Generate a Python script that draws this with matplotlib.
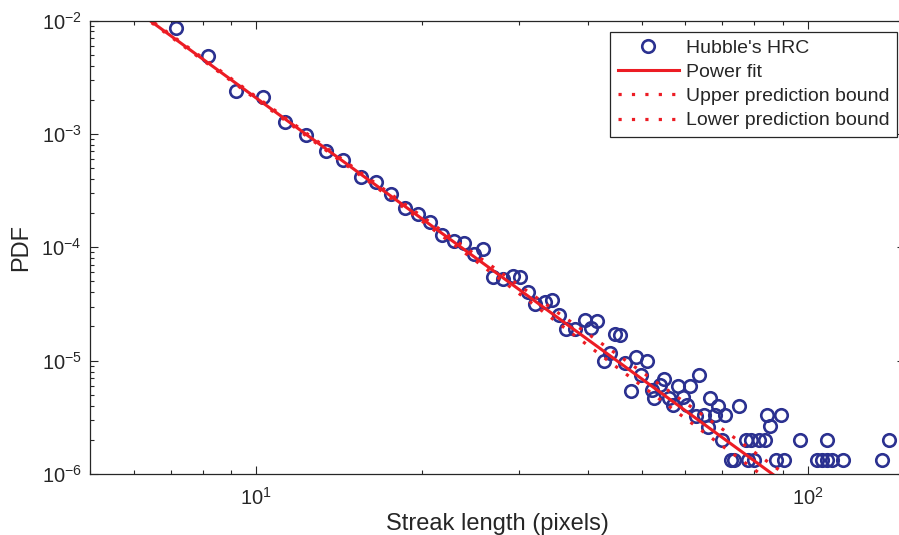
import numpy as np
import matplotlib
matplotlib.use("Agg")
import matplotlib.pyplot as plt

plt.rcParams['font.family'] = ['Liberation Sans', 'DejaVu Sans']
plt.rcParams['mathtext.fontset'] = 'custom'
plt.rcParams['mathtext.rm'] = 'Liberation Sans'
plt.rcParams['mathtext.it'] = 'Liberation Sans:italic'
plt.rcParams['mathtext.bf'] = 'Liberation Sans:bold'

# streak length (pixels) / PDF
streak_len = [7.15, 8.18, 9.21, 10.28, 11.28, 12.32, 13.38, 14.40, 15.47, 16.52,
              17.53, 18.60, 19.66, 20.70, 21.73, 22.80, 23.84, 24.85, 25.83, 26.92,
              28.03, 29.16, 30.08, 31.14, 32.02, 33.38, 34.33, 35.38, 36.43, 37.81,
              39.42, 40.53, 41.55, 42.75, 43.73, 44.66, 45.73, 46.66, 47.73, 48.80,
              49.89, 51.02, 52.19, 52.73, 53.99, 54.95, 56.12, 57.05, 58.09, 59.31,
              60.30, 61.16, 62.70, 63.39, 64.91, 65.80, 66.55, 67.95, 68.60, 69.75,
              70.84, 72.53, 73.52, 75.07, 77.29, 77.93, 78.90, 79.89, 81.58, 83.64,
              84.44, 85.30, 87.45, 89.40, 90.70, 96.74, 103.9, 106.1, 108.2, 108.3,
              110.4, 115.7, 136.2, 140.6]
pdf = [8.53e-3, 4.86e-3, 2.39e-3, 2.10e-3, 1.265e-3, 9.72e-4, 7.0e-4, 5.89e-4, 4.20e-4, 3.74e-4,
       2.93e-4, 2.21e-4, 1.95e-4, 1.68e-4, 1.28e-4, 1.14e-4, 1.10e-4, 8.73e-5, 9.60e-5, 5.47e-5,
       5.25e-5, 5.53e-5, 5.5e-5, 4.06e-5, 3.16e-5, 3.31e-5, 3.43e-5, 2.53e-5, 1.89e-5, 1.89e-5,
       2.29e-5, 1.93e-5, 2.25e-5, 9.94e-6, 1.16e-5, 1.72e-5, 1.68e-5, 9.48e-6, 5.35e-6, 1.08e-5,
       7.48e-6, 1.0e-5, 5.46e-6, 4.66e-6, 6.11e-6, 6.85e-6, 4.66e-6, 4.07e-6, 5.98e-6, 4.81e-6,
       4.07e-6, 5.98e-6, 3.25e-6, 7.48e-6, 3.3e-6, 2.62e-6, 4.66e-6, 3.3e-6, 3.99e-6, 2.0e-6,
       3.3e-6, 1.33e-6, 1.33e-6, 4.0e-6, 2.0e-6, 1.33e-6, 2.0e-6, 1.33e-6, 2.0e-6, 2.0e-6,
       3.33e-6, 2.67e-6, 1.33e-6, 3.33e-6, 1.33e-6, 2.0e-6, 1.33e-6, 1.33e-6, 2.0e-6, 1.33e-6,
       1.33e-6, 1.33e-6, 1.33e-6, 2.0e-6]

# power fit  y = a * x^b
fit_a = 7.28
fit_b = -3.545

# prediction bounds
bound_x = [5.5, 15, 25, 35, 45, 55, 70, 90]
upper_y = [1.76e-2, 5.08e-4, 8.57e-5, 2.71e-5, 1.144e-5, 5.74e-6, 2.49e-6, 1.03e-6]
lower_y = [1.70e-2, 4.78e-4, 7.58e-5, 2.21e-5, 8.79e-6, 4.24e-6, 1.764e-6, 7.17e-7]

blue = '#2B3190'
red = '#EC1C24'
ink = '#262626'

fig = plt.figure(figsize=(8.99, 5.35), dpi=100)
ax = fig.add_axes([90/899, 61/535, 815/899, 453.5/535])

ax.loglog(streak_len, pdf, 'o', mfc='none', mec=blue, ms=9, mew=1.9,
          label="Hubble's HRC")
xf = np.geomspace(5, 150, 200)
ax.loglog(xf, fit_a * xf**fit_b, '-', color=red, lw=2.2, label='Power fit')
dots = (0, (1, 3.2))
ax.loglog(bound_x, upper_y, color=red, lw=2.3, ls=dots,
          label='Upper prediction bound')
ax.loglog(bound_x, lower_y, color=red, lw=2.3, ls=dots,
          label='Lower prediction bound')

ax.set_xlim(5, 150)
ax.set_ylim(1e-6, 1e-2)
ax.set_xticks([10, 100])
ax.set_xticklabels([r'$10^{1}$', r'$10^{2}$'])
ax.set_yticks([1e-6, 1e-5, 1e-4, 1e-3, 1e-2])
ax.set_yticklabels([r'$10^{-6}$', r'$10^{-5}$', r'$10^{-4}$', r'$10^{-3}$', r'$10^{-2}$'])
ax.tick_params(which='both', direction='in', top=True, right=True, labelsize=14.5,
               colors=ink, width=0.8)
ax.tick_params(which='major', length=6)
ax.tick_params(which='minor', length=3)
ax.tick_params(axis='x', which='major', pad=9)
ax.tick_params(axis='y', which='major', pad=6)
for s in ax.spines.values():
    s.set_linewidth(0.9)
    s.set_color(ink)

ax.set_xlabel('Streak length (pixels)', fontsize=17, color=ink, labelpad=3)
ax.set_ylabel('PDF', fontsize=17, color=ink, labelpad=7)

leg = ax.legend(loc='upper right', bbox_to_anchor=(897/899, 503.3/535),
                bbox_transform=fig.transFigure, borderaxespad=0, fontsize=14,
                numpoints=1, handlelength=3.15, handletextpad=0.36, labelspacing=0.34,
                borderpad=0.38, fancybox=False, framealpha=1, edgecolor=ink)
leg.get_frame().set_linewidth(0.9)
for t in leg.get_texts():
    t.set_color(ink)

fig.savefig('out.png', dpi=100)
